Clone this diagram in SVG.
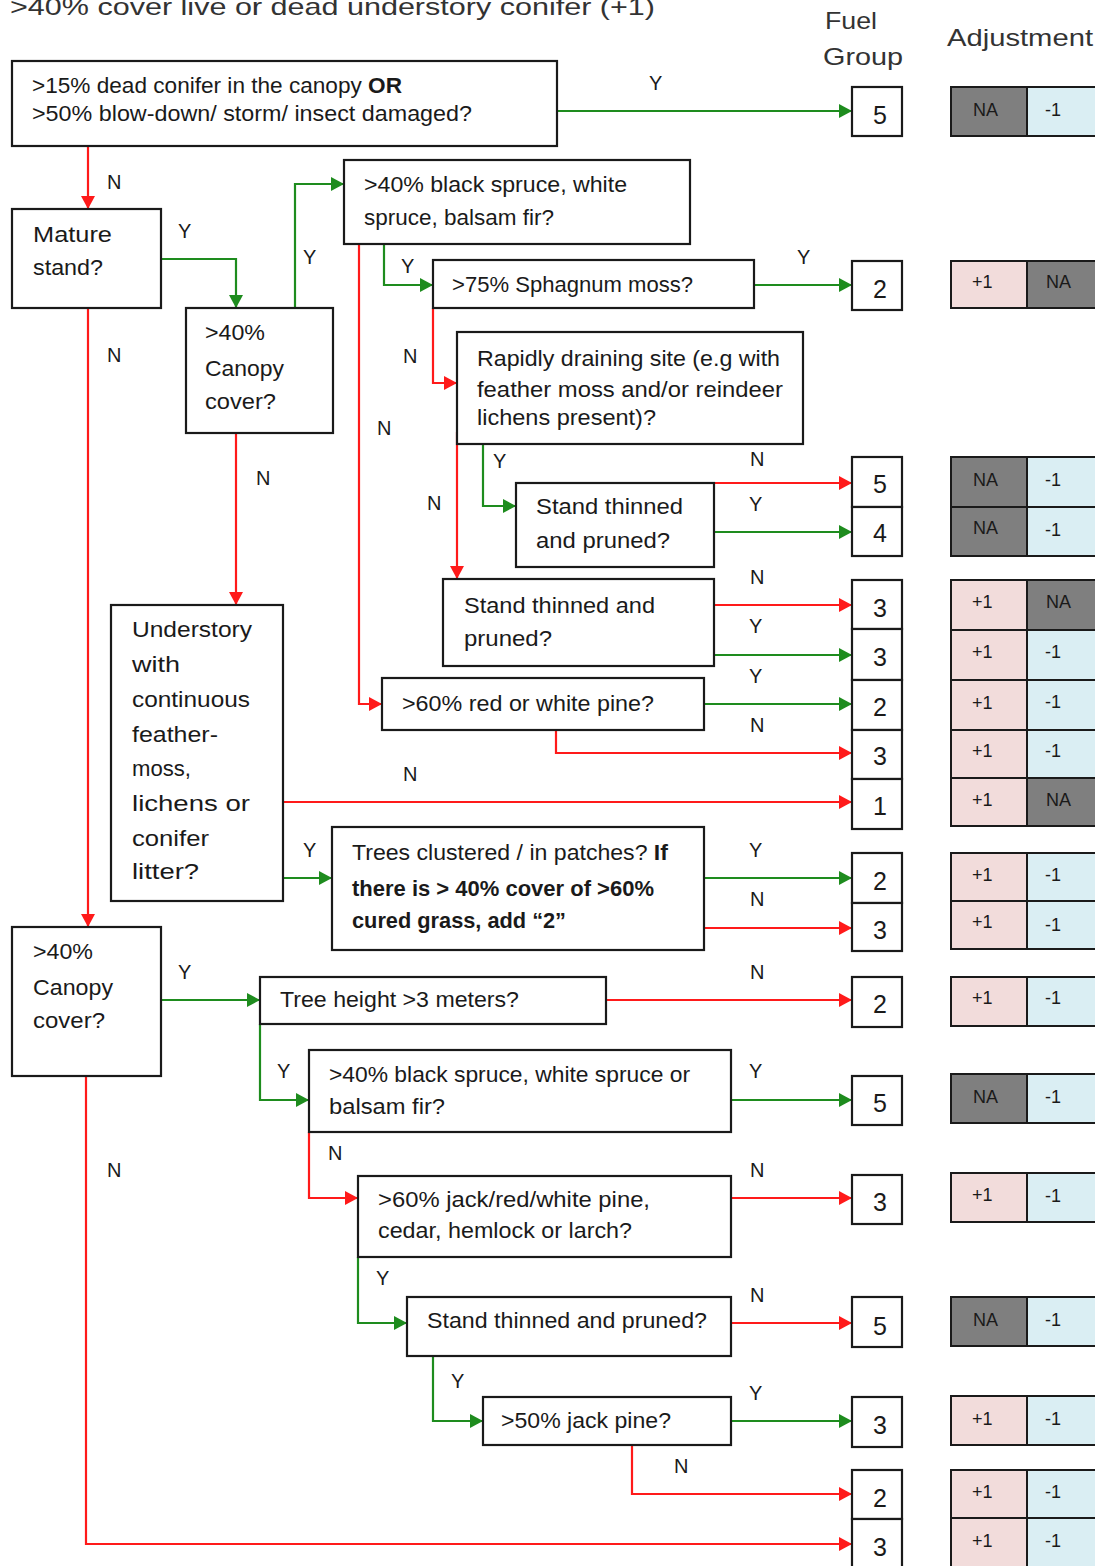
<svg xmlns="http://www.w3.org/2000/svg" width="1095" height="1566" viewBox="0 0 1095 1566">
<defs>
<style>
.box{fill:#fff;stroke:#1a1a1a;stroke-width:2.2}
.t{font-family:"Liberation Sans",Arial,sans-serif;font-size:22px;fill:#1a1a1a;dominant-baseline:central}
.b{font-weight:bold}
.lbl{font-family:"Liberation Sans",Arial,sans-serif;font-size:20px;fill:#1a1a1a;dominant-baseline:central}
.hdr{font-family:"Liberation Sans",Arial,sans-serif;font-size:24px;fill:#333;dominant-baseline:central}
.fg{font-family:"Liberation Sans",Arial,sans-serif;font-size:25px;fill:#1a1a1a;text-anchor:middle;dominant-baseline:central}
.adj{font-family:"Liberation Sans",Arial,sans-serif;font-size:18px;fill:#1a1a1a;dominant-baseline:central}
.na{fill:#7f7f7f;stroke:#1a1a1a;stroke-width:2}
.pk{fill:#f2dcdb;stroke:#1a1a1a;stroke-width:2}
.bl{fill:#daeef3;stroke:#1a1a1a;stroke-width:2}
.r{fill:none;stroke:#ff1a1a;stroke-width:2.2;marker-end:url(#ar)}
.g{fill:none;stroke:#1e8c1e;stroke-width:2.2;marker-end:url(#ag)}
</style>
<marker id="ar" markerUnits="userSpaceOnUse" markerWidth="14" markerHeight="14" refX="13" refY="7" orient="auto"><path d="M0,0 L13,7 L0,14 Z" fill="#ff1a1a"/></marker>
<marker id="ag" markerUnits="userSpaceOnUse" markerWidth="14" markerHeight="14" refX="13" refY="7" orient="auto"><path d="M0,0 L13,7 L0,14 Z" fill="#1e8c1e"/></marker>
</defs>
<rect width="1095" height="1566" fill="#fff"/>

<text class="hdr" x="10" y="6" font-size="26" textLength="645" lengthAdjust="spacingAndGlyphs">&gt;40% cover live or dead understory conifer (+1)</text>
<text class="hdr" x="825" y="20" textLength="52" lengthAdjust="spacingAndGlyphs">Fuel</text>
<text class="hdr" x="823" y="56" textLength="80" lengthAdjust="spacingAndGlyphs">Group</text>
<text class="hdr" x="947" y="37" textLength="146" lengthAdjust="spacingAndGlyphs">Adjustment</text>

<g id="connectors">
<path class="g" d="M557,111 H852"/>
<path class="r" d="M88,146 V209"/>
<path class="g" d="M161,259 H236 V308"/>
<path class="g" d="M295,308 V184 H344"/>
<path class="g" d="M384,244 V285 H433"/>
<path class="r" d="M359,244 V704 H382"/>
<path class="g" d="M754,285 H852"/>
<path class="r" d="M433,308 V383 H457"/>
<path class="g" d="M483,444 V506 H516"/>
<path class="r" d="M457,432 V579"/>
<path class="r" d="M714,483 H852"/>
<path class="g" d="M714,532 H852"/>
<path class="r" d="M714,605 H852"/>
<path class="g" d="M714,655 H852"/>
<path class="g" d="M704,704 H852"/>
<path class="r" d="M556,730 V753 H852"/>
<path class="r" d="M236,433 V605"/>
<path class="r" d="M283,802 H852"/>
<path class="g" d="M283,878 H332"/>
<path class="g" d="M704,878 H852"/>
<path class="r" d="M704,928 H852"/>
<path class="r" d="M88,308 V927"/>
<path class="g" d="M161,1000 H260"/>
<path class="r" d="M86,1076 V1544 H852"/>
<path class="r" d="M606,1000 H852"/>
<path class="g" d="M260,1024 V1100 H309"/>
<path class="g" d="M731,1100 H852"/>
<path class="r" d="M309,1132 V1198 H358"/>
<path class="r" d="M731,1198 H852"/>
<path class="g" d="M358,1257 V1323 H407"/>
<path class="r" d="M731,1323 H852"/>
<path class="g" d="M433,1356 V1421 H483"/>
<path class="g" d="M731,1421 H852"/>
<path class="r" d="M632,1445 V1494 H852"/>
</g>

<g id="labels">
<text class="lbl" x="649" y="83">Y</text>
<text class="lbl" x="107" y="182">N</text>
<text class="lbl" x="178" y="231">Y</text>
<text class="lbl" x="303" y="257">Y</text>
<text class="lbl" x="401" y="266">Y</text>
<text class="lbl" x="797" y="257">Y</text>
<text class="lbl" x="107" y="355">N</text>
<text class="lbl" x="403" y="356">N</text>
<text class="lbl" x="377" y="428">N</text>
<text class="lbl" x="493" y="461">Y</text>
<text class="lbl" x="750" y="459">N</text>
<text class="lbl" x="256" y="478">N</text>
<text class="lbl" x="427" y="503">N</text>
<text class="lbl" x="749" y="504">Y</text>
<text class="lbl" x="750" y="577">N</text>
<text class="lbl" x="749" y="626">Y</text>
<text class="lbl" x="749" y="676">Y</text>
<text class="lbl" x="750" y="725">N</text>
<text class="lbl" x="403" y="774">N</text>
<text class="lbl" x="303" y="850">Y</text>
<text class="lbl" x="749" y="850">Y</text>
<text class="lbl" x="750" y="899">N</text>
<text class="lbl" x="178" y="972">Y</text>
<text class="lbl" x="750" y="972">N</text>
<text class="lbl" x="277" y="1071">Y</text>
<text class="lbl" x="749" y="1071">Y</text>
<text class="lbl" x="328" y="1153">N</text>
<text class="lbl" x="107" y="1170">N</text>
<text class="lbl" x="750" y="1170">N</text>
<text class="lbl" x="376" y="1278">Y</text>
<text class="lbl" x="750" y="1295">N</text>
<text class="lbl" x="451" y="1381">Y</text>
<text class="lbl" x="749" y="1393">Y</text>
<text class="lbl" x="674" y="1466">N</text>
</g>

<g id="n1"><rect class="box" x="12" y="61" width="545" height="85"/>
<text class="t" x="32" y="85" textLength="370" lengthAdjust="spacingAndGlyphs">&gt;15% dead conifer in the canopy <tspan class="b">OR</tspan></text>
<text class="t" x="32" y="113" textLength="440" lengthAdjust="spacingAndGlyphs">&gt;50% blow-down/ storm/ insect damaged?</text></g>

<g id="n2"><rect class="box" x="12" y="209" width="149" height="99"/>
<text class="t" x="33" y="234" textLength="79" lengthAdjust="spacingAndGlyphs">Mature</text>
<text class="t" x="33" y="267" textLength="70" lengthAdjust="spacingAndGlyphs">stand?</text></g>

<g id="n3"><rect class="box" x="186" y="308" width="147" height="125"/>
<text class="t" x="205" y="332" textLength="60" lengthAdjust="spacingAndGlyphs">&gt;40%</text>
<text class="t" x="205" y="368" textLength="79" lengthAdjust="spacingAndGlyphs">Canopy</text>
<text class="t" x="205" y="401" textLength="71" lengthAdjust="spacingAndGlyphs">cover?</text></g>

<g id="n4"><rect class="box" x="344" y="160" width="346" height="84"/>
<text class="t" x="364" y="184" textLength="263" lengthAdjust="spacingAndGlyphs">&gt;40% black spruce, white</text>
<text class="t" x="364" y="217" textLength="190" lengthAdjust="spacingAndGlyphs">spruce, balsam fir?</text></g>

<g id="n5"><rect class="box" x="433" y="260" width="321" height="48"/>
<text class="t" x="452" y="284" textLength="241" lengthAdjust="spacingAndGlyphs">&gt;75% Sphagnum moss?</text></g>

<g id="n6"><rect class="box" x="457" y="332" width="346" height="112"/>
<text class="t" x="477" y="358" textLength="303" lengthAdjust="spacingAndGlyphs">Rapidly draining site (e.g with</text>
<text class="t" x="477" y="389" textLength="306" lengthAdjust="spacingAndGlyphs">feather moss and/or reindeer</text>
<text class="t" x="477" y="417" textLength="179" lengthAdjust="spacingAndGlyphs">lichens present)?</text></g>

<g id="n7"><rect class="box" x="516" y="483" width="198" height="84"/>
<text class="t" x="536" y="506" textLength="147" lengthAdjust="spacingAndGlyphs">Stand thinned</text>
<text class="t" x="536" y="540" textLength="134" lengthAdjust="spacingAndGlyphs">and pruned?</text></g>

<g id="n8"><rect class="box" x="443" y="579" width="271" height="87"/>
<text class="t" x="464" y="605" textLength="191" lengthAdjust="spacingAndGlyphs">Stand thinned and</text>
<text class="t" x="464" y="638" textLength="88" lengthAdjust="spacingAndGlyphs">pruned?</text></g>

<g id="n9"><rect class="box" x="382" y="678" width="322" height="52"/>
<text class="t" x="402" y="703" textLength="252" lengthAdjust="spacingAndGlyphs">&gt;60% red or white pine?</text></g>

<g id="n10"><rect class="box" x="111" y="605" width="172" height="296"/>
<text class="t" x="132" y="629" textLength="120" lengthAdjust="spacingAndGlyphs">Understory</text>
<text class="t" x="132" y="664" textLength="48" lengthAdjust="spacingAndGlyphs">with</text>
<text class="t" x="132" y="699" textLength="118" lengthAdjust="spacingAndGlyphs">continuous</text>
<text class="t" x="132" y="734" textLength="86" lengthAdjust="spacingAndGlyphs">feather-</text>
<text class="t" x="132" y="768" textLength="59" lengthAdjust="spacingAndGlyphs">moss,</text>
<text class="t" x="132" y="803" textLength="118" lengthAdjust="spacingAndGlyphs">lichens or</text>
<text class="t" x="132" y="838" textLength="77" lengthAdjust="spacingAndGlyphs">conifer</text>
<text class="t" x="132" y="871" textLength="67" lengthAdjust="spacingAndGlyphs">litter?</text></g>

<g id="n11"><rect class="box" x="332" y="827" width="372" height="123"/>
<text class="t" x="352" y="852" textLength="316" lengthAdjust="spacingAndGlyphs">Trees clustered / in patches? <tspan class="b">If</tspan></text>
<text class="t b" x="352" y="888" textLength="302" lengthAdjust="spacingAndGlyphs">there is &gt; 40% cover of &gt;60%</text>
<text class="t b" x="352" y="920" textLength="214" lengthAdjust="spacingAndGlyphs">cured grass, add “2”</text></g>

<g id="n12"><rect class="box" x="12" y="927" width="149" height="149"/>
<text class="t" x="33" y="951" textLength="60" lengthAdjust="spacingAndGlyphs">&gt;40%</text>
<text class="t" x="33" y="987" textLength="80" lengthAdjust="spacingAndGlyphs">Canopy</text>
<text class="t" x="33" y="1020" textLength="72" lengthAdjust="spacingAndGlyphs">cover?</text></g>

<g id="n13"><rect class="box" x="260" y="977" width="346" height="47"/>
<text class="t" x="280" y="999" textLength="239" lengthAdjust="spacingAndGlyphs">Tree height &gt;3 meters?</text></g>

<g id="n14"><rect class="box" x="309" y="1050" width="422" height="82"/>
<text class="t" x="329" y="1074" textLength="361" lengthAdjust="spacingAndGlyphs">&gt;40% black spruce, white spruce or</text>
<text class="t" x="329" y="1106" textLength="116" lengthAdjust="spacingAndGlyphs">balsam fir?</text></g>

<g id="n15"><rect class="box" x="358" y="1176" width="373" height="81"/>
<text class="t" x="378" y="1199" textLength="272" lengthAdjust="spacingAndGlyphs">&gt;60% jack/red/white pine,</text>
<text class="t" x="378" y="1230" textLength="254" lengthAdjust="spacingAndGlyphs">cedar, hemlock or larch?</text></g>

<g id="n16"><rect class="box" x="407" y="1297" width="324" height="59"/>
<text class="t" x="427" y="1320" textLength="280" lengthAdjust="spacingAndGlyphs">Stand thinned and pruned?</text></g>

<g id="n17"><rect class="box" x="483" y="1397" width="248" height="48"/>
<text class="t" x="501" y="1420" textLength="170" lengthAdjust="spacingAndGlyphs">&gt;50% jack pine?</text></g>

<g id="fuel">
<rect class="box" x="852" y="87" width="50" height="49"/><text class="fg" x="880" y="115">5</text>
<rect class="box" x="852" y="261" width="50" height="49"/><text class="fg" x="880" y="289">2</text>
<rect class="box" x="852" y="457" width="50" height="50"/><text class="fg" x="880" y="484">5</text>
<rect class="box" x="852" y="507" width="50" height="49"/><text class="fg" x="880" y="533">4</text>
<rect class="box" x="852" y="580" width="50" height="49"/><text class="fg" x="880" y="608">3</text>
<rect class="box" x="852" y="629" width="50" height="51" stroke-width="3"/><text class="fg" x="880" y="657">3</text>
<rect class="box" x="852" y="680" width="50" height="50"/><text class="fg" x="880" y="707">2</text>
<rect class="box" x="852" y="730" width="50" height="49"/><text class="fg" x="880" y="756">3</text>
<rect class="box" x="852" y="779" width="50" height="50" stroke-width="3"/><text class="fg" x="880" y="806">1</text>
<rect class="box" x="852" y="853" width="50" height="50"/><text class="fg" x="880" y="881">2</text>
<rect class="box" x="852" y="903" width="50" height="48"/><text class="fg" x="880" y="930">3</text>
<rect class="box" x="852" y="977" width="50" height="50"/><text class="fg" x="880" y="1004">2</text>
<rect class="box" x="852" y="1076" width="50" height="49"/><text class="fg" x="880" y="1103">5</text>
<rect class="box" x="852" y="1175" width="50" height="49"/><text class="fg" x="880" y="1202">3</text>
<rect class="box" x="852" y="1297" width="50" height="50"/><text class="fg" x="880" y="1326">5</text>
<rect class="box" x="852" y="1397" width="50" height="50"/><text class="fg" x="880" y="1425">3</text>
<rect class="box" x="852" y="1470" width="50" height="49"/><text class="fg" x="880" y="1498">2</text>
<rect class="box" x="852" y="1519" width="50" height="50"/><text class="fg" x="880" y="1547">3</text>
</g>

<g id="adjustment">
<rect class="na" x="951" y="87" width="76" height="49"/><rect class="bl" x="1027" y="87" width="75" height="49"/><text class="adj" x="973" y="110">NA</text><text class="adj" x="1045" y="110">-1</text>
<rect class="pk" x="951" y="261" width="76" height="47"/><rect class="na" x="1027" y="261" width="75" height="47"/><text class="adj" x="972" y="282">+1</text><text class="adj" x="1046" y="282">NA</text>
<rect class="na" x="951" y="457" width="76" height="50"/><rect class="bl" x="1027" y="457" width="75" height="50"/><text class="adj" x="973" y="480">NA</text><text class="adj" x="1045" y="480">-1</text>
<rect class="na" x="951" y="507" width="76" height="49"/><rect class="bl" x="1027" y="507" width="75" height="49"/><text class="adj" x="973" y="528">NA</text><text class="adj" x="1045" y="530">-1</text>
<rect class="pk" x="951" y="580" width="76" height="50"/><rect class="na" x="1027" y="580" width="75" height="50"/><text class="adj" x="972" y="602">+1</text><text class="adj" x="1046" y="602">NA</text>
<rect class="pk" x="951" y="630" width="76" height="50"/><rect class="bl" x="1027" y="630" width="75" height="50"/><text class="adj" x="972" y="652">+1</text><text class="adj" x="1045" y="652">-1</text>
<rect class="pk" x="951" y="680" width="76" height="50"/><rect class="bl" x="1027" y="680" width="75" height="50"/><text class="adj" x="972" y="703">+1</text><text class="adj" x="1045" y="702">-1</text>
<rect class="pk" x="951" y="730" width="76" height="48"/><rect class="bl" x="1027" y="730" width="75" height="48"/><text class="adj" x="972" y="751">+1</text><text class="adj" x="1045" y="751">-1</text>
<rect class="pk" x="951" y="778" width="76" height="48"/><rect class="na" x="1027" y="778" width="75" height="48"/><text class="adj" x="972" y="800">+1</text><text class="adj" x="1046" y="800">NA</text>
<rect class="pk" x="951" y="853" width="76" height="48"/><rect class="bl" x="1027" y="853" width="75" height="48"/><text class="adj" x="972" y="875">+1</text><text class="adj" x="1045" y="875">-1</text>
<rect class="pk" x="951" y="901" width="76" height="48"/><rect class="bl" x="1027" y="901" width="75" height="48"/><text class="adj" x="972" y="922">+1</text><text class="adj" x="1045" y="925">-1</text>
<rect class="pk" x="951" y="977" width="76" height="49"/><rect class="bl" x="1027" y="977" width="75" height="49"/><text class="adj" x="972" y="998">+1</text><text class="adj" x="1045" y="998">-1</text>
<rect class="na" x="951" y="1074" width="76" height="49"/><rect class="bl" x="1027" y="1074" width="75" height="49"/><text class="adj" x="973" y="1097">NA</text><text class="adj" x="1045" y="1097">-1</text>
<rect class="pk" x="951" y="1173" width="76" height="49"/><rect class="bl" x="1027" y="1173" width="75" height="49"/><text class="adj" x="972" y="1195">+1</text><text class="adj" x="1045" y="1196">-1</text>
<rect class="na" x="951" y="1297" width="76" height="49"/><rect class="bl" x="1027" y="1297" width="75" height="49"/><text class="adj" x="973" y="1320">NA</text><text class="adj" x="1045" y="1320">-1</text>
<rect class="pk" x="951" y="1396" width="76" height="49"/><rect class="bl" x="1027" y="1396" width="75" height="49"/><text class="adj" x="972" y="1419">+1</text><text class="adj" x="1045" y="1419">-1</text>
<rect class="pk" x="951" y="1470" width="76" height="48"/><rect class="bl" x="1027" y="1470" width="75" height="48"/><text class="adj" x="972" y="1492">+1</text><text class="adj" x="1045" y="1492">-1</text>
<rect class="pk" x="951" y="1518" width="76" height="50"/><rect class="bl" x="1027" y="1518" width="75" height="50"/><text class="adj" x="972" y="1541">+1</text><text class="adj" x="1045" y="1541">-1</text>
</g>
</svg>
